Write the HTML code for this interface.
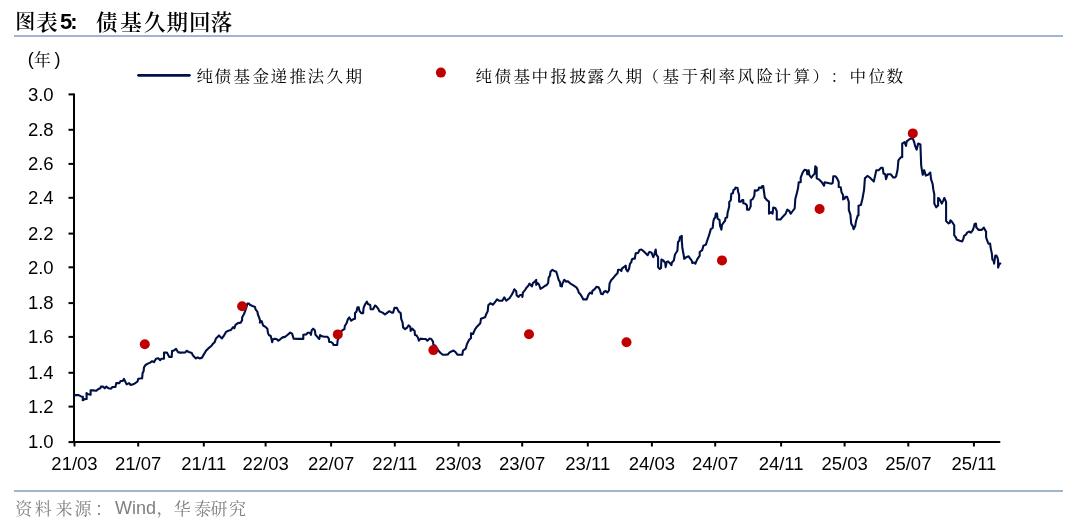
<!DOCTYPE html>
<html><head><meta charset="utf-8"><title>债基久期回落</title><style>
html,body{margin:0;padding:0;background:#fff;}
body{width:1080px;height:525px;position:relative;overflow:hidden;}
span,div.t{position:absolute;white-space:nowrap;line-height:1;text-spacing-trim:space-all;}
.rule{position:absolute;left:14px;width:1049px;height:2px;background:#A2B4CC;}
.ti{font-family:"Noto Serif CJK SC",serif;font-weight:600;font-size:21.5px;width:21.5px;text-align:center;color:#000;}
.tn{font-family:"Liberation Sans",sans-serif;font-weight:bold;font-size:22px;color:#000;}
.lg{font-family:"Noto Serif CJK SC",serif;font-size:15.5px;width:15.5px;text-align:center;color:#000;transform:scaleX(1.07);}
.sr{font-family:"Noto Serif CJK SC",serif;font-size:17px;width:17px;text-align:center;color:#7F7F7F;}
.sw{font-family:"Liberation Sans",sans-serif;font-size:18px;color:#7F7F7F;}
.un{font-family:"Liberation Sans",sans-serif;font-size:18px;color:#000;}
.uc{font-family:"Noto Serif CJK SC",serif;font-size:17px;width:17px;text-align:center;color:#000;}
</style></head><body>
<span class="ti" style="left:15.35px;top:11px;font-size:20px;width:20px">图</span>
<span class="ti" style="left:36.3px;top:10px">表</span><span class="ti" style="left:96.05px;top:10px">债</span><span class="ti" style="left:120.2px;top:10px">基</span><span class="ti" style="left:144px;top:10px">久</span><span class="ti" style="left:166.4px;top:10px">期</span><span class="ti" style="left:189px;top:10px">回</span><span class="ti" style="left:210.85px;top:10px">落</span>
<span class="tn" style="left:60px;top:11px">5</span><span class="tn" style="left:70.2px;top:11px">:</span>
<div class="rule" style="top:35px"></div>
<span class="un" style="left:27.7px;top:49.9px">(</span>
<span class="uc" style="left:34.1px;top:49.8px">年</span>
<span class="un" style="left:54.6px;top:49.9px">)</span>
<span class="lg" style="left:196.75px;top:67.6px">纯</span><span class="lg" style="left:215.37px;top:67.6px">债</span><span class="lg" style="left:233.99px;top:67.6px">基</span><span class="lg" style="left:252.61px;top:67.6px">金</span><span class="lg" style="left:271.23px;top:67.6px">递</span><span class="lg" style="left:289.85px;top:67.6px">推</span><span class="lg" style="left:308.47px;top:67.6px">法</span><span class="lg" style="left:327.09px;top:67.6px">久</span><span class="lg" style="left:345.71px;top:67.6px">期</span>
<span class="lg" style="left:476.15px;top:67.6px">纯</span><span class="lg" style="left:494.84px;top:67.6px">债</span><span class="lg" style="left:513.53px;top:67.6px">基</span><span class="lg" style="left:532.22px;top:67.6px">中</span><span class="lg" style="left:550.91px;top:67.6px">报</span><span class="lg" style="left:569.6px;top:67.6px">披</span><span class="lg" style="left:588.29px;top:67.6px">露</span><span class="lg" style="left:606.98px;top:67.6px">久</span><span class="lg" style="left:625.67px;top:67.6px">期</span><span class="lg" style="left:642.86px;top:67.6px">（</span><span class="lg" style="left:663.05px;top:67.6px">基</span><span class="lg" style="left:681.74px;top:67.6px">于</span><span class="lg" style="left:700.43px;top:67.6px">利</span><span class="lg" style="left:719.12px;top:67.6px">率</span><span class="lg" style="left:737.81px;top:67.6px">风</span><span class="lg" style="left:756.5px;top:67.6px">险</span><span class="lg" style="left:775.19px;top:67.6px">计</span><span class="lg" style="left:793.88px;top:67.6px">算</span><span class="lg" style="left:812.57px;top:67.6px">）</span><span class="lg" style="left:831.26px;top:67.6px">：</span><span class="lg" style="left:849.95px;top:67.6px">中</span><span class="lg" style="left:868.64px;top:67.6px">位</span><span class="lg" style="left:887.33px;top:67.6px">数</span>
<svg width="1080" height="525" viewBox="0 0 1080 525" style="position:absolute;left:0;top:0">
<g stroke="#000" stroke-width="2" fill="none">
<line x1="74" y1="93.5" x2="74" y2="442"/>
<line x1="73" y1="442" x2="999.5" y2="442" stroke-linecap="round"/>
<line x1="68.5" y1="442.1" x2="74" y2="442.1"/><line x1="68.5" y1="406.6" x2="74" y2="406.6"/><line x1="68.5" y1="372.8" x2="74" y2="372.8"/><line x1="68.5" y1="336.9" x2="74" y2="336.9"/><line x1="68.5" y1="303.1" x2="74" y2="303.1"/><line x1="68.5" y1="267.3" x2="74" y2="267.3"/><line x1="68.5" y1="233.6" x2="74" y2="233.6"/><line x1="68.5" y1="197.8" x2="74" y2="197.8"/><line x1="68.5" y1="163.9" x2="74" y2="163.9"/><line x1="68.5" y1="129.8" x2="74" y2="129.8"/><line x1="68.5" y1="94.4" x2="74" y2="94.4"/>
<line x1="74.5" y1="442" x2="74.5" y2="446.5"/><line x1="138.2" y1="442" x2="138.2" y2="446.5"/><line x1="203.8" y1="442" x2="203.8" y2="446.5"/><line x1="265.6" y1="442" x2="265.6" y2="446.5"/><line x1="331.1" y1="442" x2="331.1" y2="446.5"/><line x1="394.8" y1="442" x2="394.8" y2="446.5"/><line x1="458.5" y1="442" x2="458.5" y2="446.5"/><line x1="522.2" y1="442" x2="522.2" y2="446.5"/><line x1="587.8" y1="442" x2="587.8" y2="446.5"/><line x1="651.9" y1="442" x2="651.9" y2="446.5"/><line x1="715.2" y1="442" x2="715.2" y2="446.5"/><line x1="781.1" y1="442" x2="781.1" y2="446.5"/><line x1="844.6" y1="442" x2="844.6" y2="446.5"/><line x1="908.3" y1="442" x2="908.3" y2="446.5"/><line x1="973.9" y1="442" x2="973.9" y2="446.5"/>
</g>
<g font-family="Liberation Sans, Arial, sans-serif" font-size="18.5" fill="#000">
<text x="53.6" y="448.4" text-anchor="end">1.0</text><text x="53.6" y="412.9" text-anchor="end">1.2</text><text x="53.6" y="379.1" text-anchor="end">1.4</text><text x="53.6" y="343.2" text-anchor="end">1.6</text><text x="53.6" y="309.4" text-anchor="end">1.8</text><text x="53.6" y="273.6" text-anchor="end">2.0</text><text x="53.6" y="239.9" text-anchor="end">2.2</text><text x="53.6" y="204.1" text-anchor="end">2.4</text><text x="53.6" y="170.2" text-anchor="end">2.6</text><text x="53.6" y="136.1" text-anchor="end">2.8</text><text x="53.6" y="100.7" text-anchor="end">3.0</text>
<text x="74.5" y="470.1" text-anchor="middle">21/03</text><text x="138.2" y="470.1" text-anchor="middle">21/07</text><text x="203.8" y="470.1" text-anchor="middle">21/11</text><text x="265.6" y="470.1" text-anchor="middle">22/03</text><text x="331.1" y="470.1" text-anchor="middle">22/07</text><text x="394.8" y="470.1" text-anchor="middle">22/11</text><text x="458.5" y="470.1" text-anchor="middle">23/03</text><text x="522.2" y="470.1" text-anchor="middle">23/07</text><text x="587.8" y="470.1" text-anchor="middle">23/11</text><text x="651.9" y="470.1" text-anchor="middle">24/03</text><text x="715.2" y="470.1" text-anchor="middle">24/07</text><text x="781.1" y="470.1" text-anchor="middle">24/11</text><text x="844.6" y="470.1" text-anchor="middle">25/03</text><text x="908.3" y="470.1" text-anchor="middle">25/07</text><text x="973.9" y="470.1" text-anchor="middle">25/11</text>
</g>
<line x1="138.5" y1="75.3" x2="189.4" y2="75.3" stroke="#00124A" stroke-width="2.7" stroke-linecap="round"/>
<circle cx="440.9" cy="72.6" r="5" fill="#C00000"/>
<polyline points="74.7,395.1 78.6,395.1 81.1,396.4 82.9,396.8 82.7,400.3 85,399 86.7,399 86.5,393 88.4,394.3 90.6,394.7 90.6,390.4 93.1,390.4 96.1,390.8 98.3,389.1 100.4,388.3 100.9,386.6 103,386.6 104.7,388.3 106.4,386.6 108.6,388.3 111.1,388.7 112.4,387 115.4,387 116.3,383.1 119.3,383.1 120.6,381 122.7,381 124,378.9 126.6,384.4 129.1,383.1 130.7,385 134,384 137.4,381.7 138.3,378.8 142.1,378.3 142.6,373.1 143.6,371.2 144,367.4 145.5,365 147.9,363.6 150.2,362.6 152.1,361.2 154,362.1 156,358.8 158.3,358.3 160.2,360.2 161.2,358.8 164,358.8 164,352.6 166.9,352.6 169.3,356.9 171.7,356.9 172.1,350.7 173.6,350.7 176,348.8 177.9,352.1 180.2,352.6 185.3,352.5 186.5,350.8 188.9,352 191.8,353.1 193,355.5 195.9,358.4 197.7,357.3 199.5,358.4 201.8,357.9 203.6,354.9 206,350.8 208.3,348.4 211.3,346 212.5,344.3 214.8,341.9 216,338.4 219,335.4 221.9,338.4 223.7,336 226,331.9 228.4,330.7 230.8,330.1 233.1,327.2 234.3,328.3 235.5,324.8 237.9,323.1 240.7,322.6 242.1,320.2 242.1,317.4 244,314 245.5,310.2 246.4,307.4 247.4,303.6 248.8,303.6 250.2,305 252.6,306 255,306.9 255.5,309.3 257.4,311.7 257.9,314.5 259.3,317.9 260.2,321.2 259.8,322.6 261.7,321.2 263.1,325.5 265.5,326.9 267.4,328.8 267.9,332.6 268.8,335 270.7,336 271.7,339.8 272.1,342.1 273.1,339.3 275,338.8 276.9,339.3 278.3,340.7 280.2,339.3 282.6,337.4 285,336.9 287.4,335 290.2,332.6 292.1,333.6 293.1,336.9 293.6,338.8 297.6,338.9 303.3,338.9 303.3,334.8 306.4,334.4 307.5,332.8 309.8,332.8 310.9,334.8 311.7,330.2 313.2,328.7 314.8,330.2 315.5,334.8 317.8,337.4 319.3,338.9 320.1,335.1 322,336.3 324.3,336.7 327.3,336.7 328.8,338.6 329.2,342 331.1,342 333,343.5 333.4,345 337.2,345 337.6,340.5 339.5,336 341.8,330.6 344.5,329 344.8,326 346.7,323 347.9,319.1 349.3,317.4 351.2,320.7 353.1,319.3 355,318.8 355,313.1 356.4,311.7 357.4,307.4 358.8,307.4 359.3,310.7 361.2,313.1 363.1,313.1 363.6,307.9 365,304.5 366.9,301.7 367.9,304 370.2,305 370.7,309.3 373.1,309.3 375,305.5 376.4,306.4 378.3,308.8 379.3,311.2 382.6,312.6 385,314.5 387.4,312.6 389.3,311.2 391.7,312.6 393.1,312.6 394.5,307.9 396.9,307.9 398.8,311.7 400.7,313.1 401.2,318.8 402.6,322.6 403.1,327.4 405.1,329.1 406.9,327.9 408.6,325.3 410.3,327 410.7,330.9 412.4,328.7 414.6,330.9 415,335.1 416.7,335.6 418,337.7 418.9,340.7 420.6,338.6 423.1,339 425.7,339 427.4,340.7 429.6,338.6 431.3,339 433,341.6 433.4,345 435.1,345.4 438.1,350.1 440.3,352.7 442.8,354.8 445.4,354.8 448,354.4 449.3,352.7 451.4,351.4 453.6,350.6 455.7,352.3 457.4,354.6 462.3,354.7 463,350.7 465.7,348.7 467,344 469,340 471,338 471,333.3 473,334 475,329.3 477,326.7 480.3,323.3 481,318.7 483,318 485,317.3 486.3,314 487.7,311.3 488.3,305.3 490.3,303.3 493,304.7 495,302 497,299.3 499,300.7 502.3,300.7 504.3,297.3 506.3,300.7 509.7,298 511.9,294.5 513.3,291.7 514.3,289.3 516.2,291.2 516.7,295.5 518.6,296.9 520,295 521.9,295 522.4,296.9 522.9,292.6 525.2,289.8 526.7,287.4 528.1,286 529.5,283.6 531.9,286.4 532.9,283.1 534.8,281.7 536.2,279.8 536.2,285 537.6,283.1 539,284.5 540.5,288.8 542.9,287.4 544.8,286 546.7,285 548.1,283.1 548.6,277.9 550,275.5 550.5,271.7 552.4,269.8 553.8,270.7 556.2,271.7 557.6,276 558.6,279.8 560,282.1 560.5,286 561.9,286.4 562.4,283.6 564.3,279.8 566.2,281.7 567.6,281.2 569.5,282.6 570.1,283.4 573,285.1 576.4,287.4 578.1,290.3 578.7,292.6 580.4,294.3 582.1,297.1 583.3,299.4 586.7,299.4 588.4,294.9 590.1,292.6 591.9,293.7 592.4,290.9 594.7,289.1 596.4,286.9 598.7,287.4 599.9,289.7 601,293.7 602.7,294.3 603.9,292 605.6,290.9 607.3,292.6 609,290.3 609.6,283.4 611.3,280 613,278.3 615.3,275.4 617.6,273.1 618.1,269.7 620,269.7 621.4,271 621.9,268.6 623.8,267.1 625.7,265.7 626.2,269.5 627.6,271.4 629,269 630,263.8 631.4,261.9 631.9,259.5 633.3,258.6 634.8,258.6 635.2,256.2 635.7,253.3 638.1,252.9 639.5,250 641.4,249.5 643.8,251.4 646.2,253.8 647.6,255.2 648.6,253.3 649.5,251.9 651.4,252.4 653.3,257.1 654.3,254.3 655.7,249.5 656.2,254.3 658.1,257.1 658.1,267.1 659.5,269 661,268.1 661.4,259.5 663.3,260.5 665.2,262.9 665.7,267.1 666.7,261.9 668.1,261.4 670,263.3 671.4,265.2 671.9,262.4 673.8,260.5 675,254.5 677.4,250.7 678,242.1 679.3,240.8 679.9,237.1 681.8,235.9 681.8,240.8 682.4,248.3 683.6,254.5 684.2,258.8 686.7,256.9 688.6,256.3 690.4,258.8 691.7,260.6 692.3,263.1 694.1,262.5 695.4,263.7 697.2,259.4 699.7,255.7 699.7,252 702.2,250.1 703.4,245.8 705.9,244.6 707.1,240.8 708.4,237.1 709.6,233.4 710.8,229.1 712.7,227.8 713.3,221.7 713.9,219.2 715.2,217.3 715.8,213.6 717,213.6 717.6,218.6 719.5,219.8 720.1,226 721.4,229.7 722,224.8 723.8,222.3 725,221.1 725.5,217.9 727.1,217.4 727.6,212.7 729.2,206.4 729.2,202.2 730.8,200.1 731.3,193.8 732.9,193.3 733.4,190.2 734.9,189.1 735.5,187.6 737.6,188.1 738.1,191.8 739.1,194.9 739.1,201.7 740.7,201.7 742.3,200.1 743.3,200.1 743.3,203.3 745.4,203.8 747,205.4 747,209.6 749.1,209.6 750.7,206.4 750.7,200.1 752.7,199.1 754.3,195.9 754.8,190.2 756.4,190.7 758.5,189.7 759,187.6 761.1,188.1 762.2,186 763.2,186 764.8,197.5 766.9,200.1 769,201.7 769,213.7 771.1,212.2 772.6,213.7 773.2,207.5 775.3,208 776.8,211.1 776.8,219.5 780.5,219.5 782.6,216.9 784.7,214.8 785.3,214.3 787.3,209.7 789.3,211 790.7,213.7 792.7,211 794.7,208.3 795.3,199 796.7,193.7 798,188.3 798.7,182.3 800.7,182.3 800.7,177.7 802.7,172.3 804.7,169.7 806.7,170.3 807.3,174.3 808.7,170.3 809.3,175 811.3,177.7 813.3,175 814.7,173.7 815.3,166.3 816.7,167.7 816.7,178.3 819.3,179.7 821.3,181.7 822.7,183.7 824,185.7 824.7,182.3 828,183 831.3,183.7 832.7,183 833.3,176.3 835.3,176.3 836.7,177.7 838.7,181.7 838.7,187 840.7,187.2 841.5,192.1 843.1,195.3 843.1,199.4 844.7,198.5 845.5,196.9 847.1,196.9 848.8,201.8 848.8,209.9 850.4,214.7 851.2,223.6 852.8,226.1 853.6,229.3 855.2,226.1 856,221.2 857.7,215.5 858.5,215.5 858.5,205.8 860.9,205 862.5,198.5 864.1,189.6 864.9,178.3 867.4,175.9 869.8,177.5 872.2,179.9 873.8,181.6 876.3,170.2 878.7,170.2 881.1,167.8 882.7,167.8 883.5,173.5 885.2,174.3 886,179.1 887.6,174.3 890.8,174.3 893.3,177.5 894.9,177.5 896.1,176.3 897.6,169.5 898.4,160.3 900.7,157.3 902.2,157.3 902.2,143.6 904.5,142.1 906,145.9 906.7,141.3 909.8,139 912.8,138.3 914.4,142.8 915.1,145.9 916.6,149.7 918.2,143.6 920.4,144.4 921.2,165.7 922.7,174.8 924.2,170.2 925.8,175.6 928,174.8 930.3,172.5 931.1,179.4 932.6,183.9 933.4,190 934.3,194.3 934.3,203.6 936.2,207.3 938.1,205.4 938.1,198 939.3,198.6 940.5,201.1 941.8,203.6 943,201.1 944.3,198 945.5,200.5 946.1,202.3 946.1,220.9 948.6,223.4 949.8,222.8 950.4,220.3 952.3,222.2 954.2,225.3 954.2,235.2 956,237.7 956.6,239.5 959.7,240.8 962.2,241.4 963.5,238.3 964.1,235.8 965.9,234.6 967.2,232.7 969,231.5 970.9,232.7 972.8,230.2 974,226.5 974.6,224 975.9,223.6 976.4,227.6 978.7,229.9 981.6,229.9 983.9,227.6 985,229.9 986.1,231.6 986.1,237.3 987.9,242.4 988.4,243.6 990.1,243.6 990.7,248.1 991.9,253.9 992.4,259.6 993.6,260.7 994.1,263.6 995.3,255.6 996.4,255.6 997.6,257.9 998.1,260.7 998.1,267.6 999.3,263.6 1000.4,263.6" fill="none" stroke="#001047" stroke-width="2.1" stroke-linejoin="round" stroke-linecap="round"/>
<g fill="#C00000">
<circle cx="144.8" cy="344.2" r="5"/>
<circle cx="242.1" cy="306.2" r="5"/>
<circle cx="337.8" cy="334.4" r="5"/>
<circle cx="433.4" cy="350.1" r="5"/>
<circle cx="529" cy="334.3" r="5"/>
<circle cx="626.5" cy="342.2" r="5"/>
<circle cx="722" cy="260.4" r="5"/>
<circle cx="819.6" cy="209" r="5"/>
<circle cx="912.8" cy="133.4" r="5"/>
</g>
</svg>
<div class="rule" style="top:490.4px"></div>
<span class="sr" style="left:15.15px;top:499px">资</span><span class="sr" style="left:34.85px;top:499px">料</span><span class="sr" style="left:55.4px;top:499px">来</span><span class="sr" style="left:74.55px;top:499px">源</span><span class="sr" style="left:94.9px;top:499px">：</span><span class="sr" style="left:173.8px;top:499px">华</span><span class="sr" style="left:194.25px;top:499px">泰</span><span class="sr" style="left:210.6px;top:499px">研</span><span class="sr" style="left:229px;top:499px">究</span>
<span class="sw" style="left:115.1px;top:499.4px">Wind</span>
<span class="sr" style="left:156.6px;top:497.5px">，</span>
</body></html>
